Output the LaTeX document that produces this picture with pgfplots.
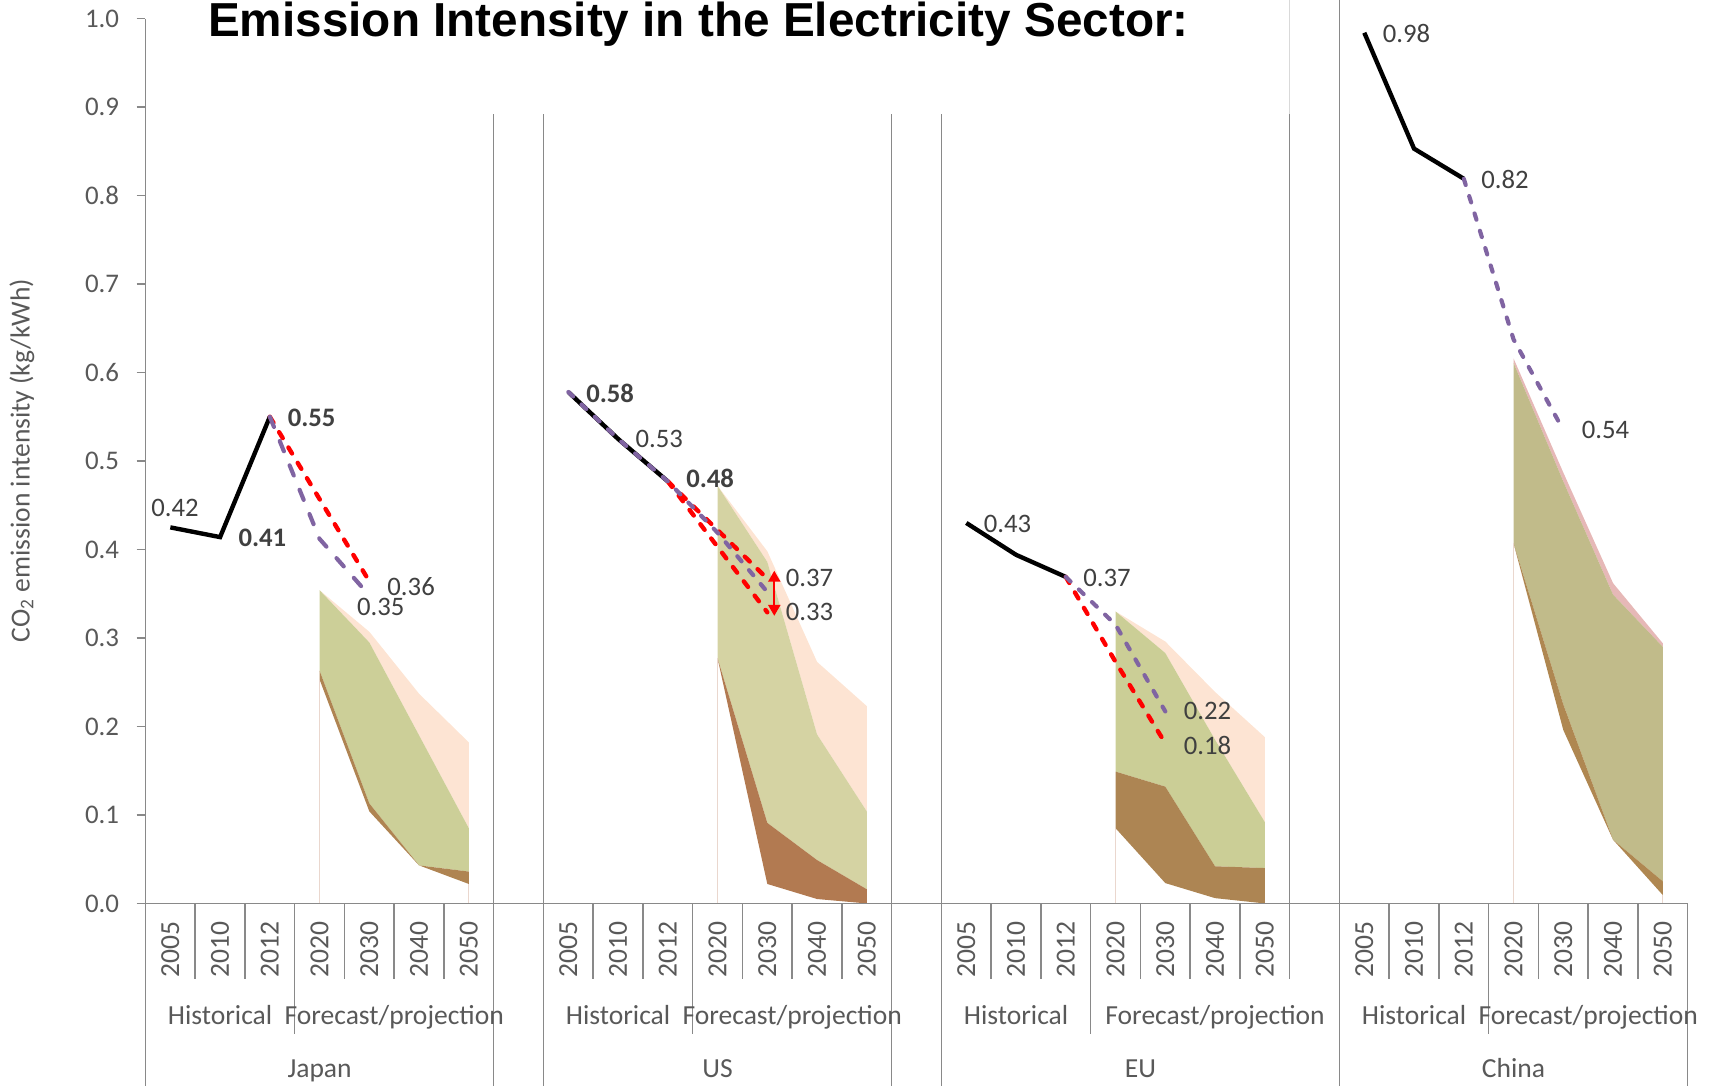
\documentclass[border=0pt]{standalone}
\usepackage{fontspec}
\setmainfont{Carlito}
\newfontfamily\titlefont{Liberation Sans}
\usepackage{pgfplots}
\pgfplotsset{compat=1.18}
\usetikzlibrary{arrows.meta}

\definecolor{axgray}{HTML}{898989}
\definecolor{lightgray}{HTML}{D9D9D9}
\definecolor{lblgray}{HTML}{595959}
\definecolor{datgray}{HTML}{404040}
\definecolor{peach}{HTML}{FDE4D3}
\definecolor{greenJ}{HTML}{CCCF98}
\definecolor{greenU}{HTML}{D5D3A3}
\definecolor{greenE}{HTML}{CBCE96}
\definecolor{greenC}{HTML}{C1BB8A}
\definecolor{brownJ}{HTML}{AF8452}
\definecolor{brownU}{HTML}{B27A51}
\definecolor{brownE}{HTML}{AD8553}
\definecolor{brownC}{HTML}{AF8751}
\definecolor{pinkC}{HTML}{E6B8B7}
\definecolor{purp}{HTML}{8064A2}
\definecolor{edgec}{HTML}{EAD7CE}

\newcommand\lblfont{\fontsize{12.6}{12.6}\selectfont}
\newcommand\datfont{\fontsize{12.2}{12.2}\selectfont}
\newcommand\vl[3]{\draw[axgray, line width=0.7pt] (axis cs:#1,#2) -- (axis cs:#1,#3);}
\newcommand\yr[2]{\node[font=\lblfont, text=lblgray, rotate=90] at (axis cs:#1,-0.0519) {#2};}
\newcommand\hl[2]{\node[font=\lblfont, text=lblgray, anchor=base] at (axis cs:#1,-0.1372) {#2};}
\newcommand\gl[2]{\node[font=\lblfont, text=lblgray, anchor=base] at (axis cs:#1,-0.1965) {#2};}
\newcommand\dl[3]{\node[font=\datfont, text=datgray] at (axis cs:#1,#2) {#3};}
\newcommand\dlb[3]{\node[font=\datfont\bfseries, text=datgray] at (axis cs:#1,#2) {#3};}
\tikzset{
  reddash/.style={red, line width=2pt, line cap=round, dash pattern=on 3.2pt off 5pt},
  purpdash/.style={purp, line width=1.9pt, line cap=round, dash pattern=on 3pt off 5.3pt},
  purplong/.style={purp, line width=1.9pt, line cap=round, dash pattern=on 5pt off 7pt},
}

\begin{document}
\begin{tikzpicture}
\begin{axis}[
  at={(0,0)}, anchor=south west,
  scale only axis, width=705pt, height=404.5pt,
  xmin=-0.5, xmax=30.5, ymin=0, ymax=1,
  clip=false,
  axis line style={draw=none},
  xtick=\empty,
  ytick={0,0.1,0.2,0.3,0.4,0.5,0.6,0.7,0.8,0.9,1},
  ytick pos=left,
  tick align=outside,
  major tick length=4pt,
  tick style={draw=axgray, line width=0.7pt},
  yticklabel style={font=\fontsize{12.3}{12.3}\selectfont, text=lblgray, xshift=-4.5pt,
    /pgf/number format/fixed, /pgf/number format/fixed zerofill,
    /pgf/number format/precision=1},
  /pgf/number format/assume math mode=true,
]

% ---------- shaded ranges (2020-2050) ----------
% Japan
\addplot[fill=peach, draw=none, forget plot] coordinates {(3,0.354)(4,0.307)(5,0.237)(6,0.182)(6,0.085)(5,0.190)(4,0.295)(3,0.354)};
\addplot[fill=greenJ, draw=none, forget plot] coordinates {(3,0.354)(4,0.295)(5,0.190)(6,0.085)(6,0.036)(5,0.043)(4,0.113)(3,0.263)};
\addplot[fill=brownJ, draw=none, forget plot] coordinates {(3,0.263)(4,0.113)(5,0.043)(6,0.036)(6,0.022)(5,0.043)(4,0.104)(3,0.253)};
% US
\addplot[fill=peach, draw=none, forget plot] coordinates {(11,0.472)(12,0.398)(13,0.273)(14,0.223)(14,0.104)(13,0.191)(12,0.386)(11,0.472)};
\addplot[fill=greenU, draw=none, forget plot] coordinates {(11,0.472)(12,0.386)(13,0.191)(14,0.104)(14,0.016)(13,0.049)(12,0.091)(11,0.277)};
\addplot[fill=brownU, draw=none, forget plot] coordinates {(11,0.277)(12,0.091)(13,0.049)(14,0.016)(14,0.0)(13,0.005)(12,0.022)(11,0.277)};
% EU
\addplot[fill=peach, draw=none, forget plot] coordinates {(19,0.330)(20,0.296)(21,0.239)(22,0.188)(22,0.092)(21,0.185)(20,0.283)(19,0.330)};
\addplot[fill=greenE, draw=none, forget plot] coordinates {(19,0.330)(20,0.283)(21,0.185)(22,0.092)(22,0.040)(21,0.042)(20,0.132)(19,0.149)};
\addplot[fill=brownE, draw=none, forget plot] coordinates {(19,0.149)(20,0.132)(21,0.042)(22,0.040)(22,0.0)(21,0.006)(20,0.023)(19,0.085)};
% China
\addplot[fill=pinkC, draw=none, forget plot] coordinates {(27,0.616)(28,0.487)(29,0.362)(30,0.294)(30,0.290)(29,0.349)(28,0.477)(27,0.611)};
\addplot[fill=greenC, draw=none, forget plot] coordinates {(27,0.611)(28,0.477)(29,0.349)(30,0.290)(30,0.025)(29,0.072)(28,0.225)(27,0.407)};
\addplot[fill=brownC, draw=none, forget plot] coordinates {(27,0.407)(28,0.225)(29,0.072)(30,0.025)(30,0.0095)(29,0.072)(28,0.196)(27,0.407)};
% faint edges of the ranges
\addplot[edgec, line width=0.5pt, forget plot] coordinates {(3,0)(3,0.253)};
\addplot[edgec, line width=0.5pt, forget plot] coordinates {(6,0)(6,0.022)};
\addplot[edgec, line width=0.5pt, forget plot] coordinates {(11,0)(11,0.277)};
\addplot[edgec, line width=0.5pt, forget plot] coordinates {(19,0)(19,0.085)};
\addplot[edgec, line width=0.5pt, forget plot] coordinates {(27,0)(27,0.407)};
\addplot[edgec, line width=0.5pt, forget plot] coordinates {(30,0)(30,0.0095)};

% ---------- axis lines and category separators ----------
\vl{-0.5}{-0.21}{1}
\draw[axgray, line width=0.7pt] (axis cs:-0.5,0) -- (axis cs:30.5,0);
\pgfplotsinvokeforeach{0.5,1.5,3.5,4.5,5.5,8.5,9.5,11.5,12.5,13.5,16.5,17.5,19.5,20.5,21.5,24.5,25.5,27.5,28.5,29.5}{\vl{#1}{0}{-0.0853}}
\pgfplotsinvokeforeach{2.5,10.5,18.5,26.5}{\vl{#1}{0}{-0.147}}
\pgfplotsinvokeforeach{6.5,7.5,14.5,15.5}{\vl{#1}{-0.21}{0.892}}
\vl{22.5}{-0.0853}{0.892}
\draw[lightgray, line width=0.7pt] (axis cs:22.5,0.892) -- (axis cs:22.5,1.03);
\vl{23.5}{-0.21}{1.03}
\vl{30.5}{-0.21}{0}

% ---------- category labels ----------
\yr{0}{2005}\yr{1}{2010}\yr{2}{2012}\yr{3}{2020}\yr{4}{2030}\yr{5}{2040}\yr{6}{2050}
\yr{8}{2005}\yr{9}{2010}\yr{10}{2012}\yr{11}{2020}\yr{12}{2030}\yr{13}{2040}\yr{14}{2050}
\yr{16}{2005}\yr{17}{2010}\yr{18}{2012}\yr{19}{2020}\yr{20}{2030}\yr{21}{2040}\yr{22}{2050}
\yr{24}{2005}\yr{25}{2010}\yr{26}{2012}\yr{27}{2020}\yr{28}{2030}\yr{29}{2040}\yr{30}{2050}
\hl{1}{Historical}\hl{4.5}{Forecast/projection}
\hl{9}{Historical}\hl{12.5}{Forecast/projection}
\hl{17}{Historical}\hl{21}{Forecast/projection}
\hl{25}{Historical}\hl{28.5}{Forecast/projection}
\gl{3}{Japan}\gl{11}{US}\gl{19.5}{EU}\gl{27}{China}

% ---------- historical (black) ----------
\addplot[black, line width=2pt, forget plot] coordinates {(0,0.425)(1,0.414)(2,0.550)};
\addplot[black, line width=2pt, forget plot] coordinates {(8,0.578)(9,0.525)(10,0.477)};
\addplot[black, line width=2pt, forget plot] coordinates {(16,0.430)(17,0.394)(18,0.369)};
\addplot[black, line width=2pt, forget plot] coordinates {(24,0.984)(25,0.853)(26,0.819)};

% ---------- red dashed projections ----------
\addplot[reddash, forget plot] coordinates {(2,0.550)(3,0.457)(4,0.364)};
\addplot[reddash, forget plot] coordinates {(10,0.477)(11,0.422)(12,0.367)};
\addplot[reddash, forget plot] coordinates {(10,0.477)(11,0.403)(12,0.329)};
\addplot[reddash, forget plot] coordinates {(18,0.369)(19,0.273)(20,0.181)};

% ---------- purple dashed projections ----------
\addplot[purplong, forget plot] coordinates {(2,0.550)(3,0.412)(4,0.348)};
\addplot[purpdash, forget plot] coordinates {(8,0.578)(9,0.525)(10,0.477)(11,0.419)(12,0.352)};
\addplot[purpdash, forget plot] coordinates {(18,0.369)(19,0.315)(20,0.217)};
\addplot[purpdash, forget plot] coordinates {(26,0.819)(27,0.6375)(28,0.535)};

% red range arrow (US 2030)
\draw[red, line width=0.9pt, {Triangle[width=5.5pt,length=5pt]}-{Triangle[width=5.5pt,length=5pt]}] (axis cs:12.14,0.325) -- (axis cs:12.14,0.376);

% ---------- data labels ----------
\dl{0.094}{0.4475}{0.42}
\dlb{1.85}{0.413}{0.41}
\dlb{2.84}{0.549}{0.55}
\dl{4.84}{0.358}{0.36}
\dl{4.23}{0.335}{0.35}
\dlb{8.84}{0.577}{0.58}
\dl{9.83}{0.525}{0.53}
\dlb{10.85}{0.480}{0.48}
\dl{12.85}{0.368}{0.37}
\dl{12.85}{0.329}{0.33}
\dl{16.83}{0.429}{0.43}
\dl{18.83}{0.368}{0.37}
\dl{20.85}{0.2175}{0.22}
\dl{20.85}{0.178}{0.18}
\dl{24.85}{0.983}{0.98}
\dl{26.83}{0.818}{0.82}
\dl{28.85}{0.535}{0.54}

% ---------- titles ----------
\node[font=\titlefont\bfseries\fontsize{21.8}{22}\selectfont, anchor=base] at (axis cs:10.615,0.980) {Emission Intensity in the Electricity Sector:};
\node[font=\fontsize{12.6}{12.6}\selectfont, text=lblgray, rotate=90] at (axis cs:-2.985,0.5006) {CO\textsubscript{2} emission intensity (kg/kWh)};
\end{axis}
\pgfresetboundingbox
\path[use as bounding box] (-66.5pt,-83pt) rectangle (717.5pt,413pt);
\end{tikzpicture}
\end{document}
